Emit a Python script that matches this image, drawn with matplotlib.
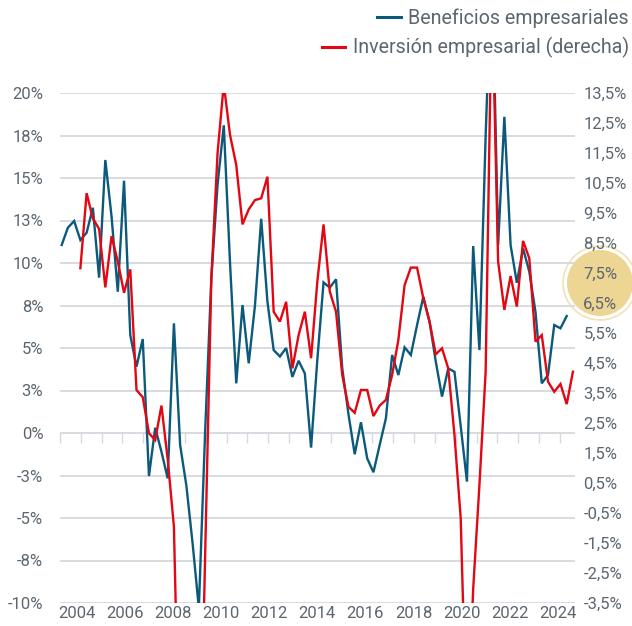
import numpy as np
import matplotlib
matplotlib.use("Agg")
import matplotlib.pyplot as plt
import matplotlib.ticker as ticker
from matplotlib.patches import Circle
from matplotlib.lines import Line2D

plt.rcParams['font.family'] = ['Roboto', 'DejaVu Sans']

#********************************
# Data (quarterly)
#********************************
label_years = ['2004', '2006', '2008', '2010', '2012', '2014',
               '2016', '2018', '2020', '2022', '2024']

# beneficios empresariales, % (left axis), quarters 0..81
beneficios = [11.06, 12.08, 12.47, 11.35, 11.78, 13.25, 9.14, 16.06, 12.73, 8.31,
              14.84, 5.76, 3.90, 5.53, -2.53, 0.31, -1.10, -2.67, 6.45, -0.71,
              -3.10, -6.50, -10.30, 0.00, 9.10, 14.60, 18.10, 10.00, 2.92, 7.53,
              4.10, 7.50, 12.60, 7.73, 4.88, 4.50, 5.00, 3.30, 4.25, 3.50,
              -0.86, 4.30, 8.86, 8.55, 9.04, 3.80, 1.10, -1.25, 0.63, -1.49,
              -2.31, -0.71, 0.86, 4.59, 3.41, 5.04, 4.59, 6.35, 8.02, 6.55,
              4.20, 2.14, 3.80, 3.60, 0.40, -2.86, 11.00, 4.88, 17.50, 28.00,
              11.06, 18.60, 11.06, 8.84, 10.86, 9.49, 7.10, 2.92, 3.41, 6.35,
              6.16, 6.88]

# inversion empresarial, % (right axis), quarters 3..82
inversion = [7.66, 10.16, 9.32, 8.97, 7.02, 8.73, 7.88, 6.84, 7.62, 3.60,
             3.36, 2.16, 1.93, 3.08, 1.30, -0.95, -10.00, -13.00, -13.50, -11.40,
             -2.00, 7.30, 11.50, 13.80, 12.10, 11.10, 9.12, 9.62, 9.93, 9.99,
             10.71, 6.21, 5.88, 6.54, 4.32, 5.43, 6.21, 4.66, 7.21, 9.12,
             6.88, 6.21, 4.10, 3.04, 2.84, 3.60, 3.60, 2.73, 3.08, 3.27,
             4.10, 5.27, 7.10, 7.68, 7.68, 6.66, 5.88, 4.79, 4.99, 4.32,
             2.10, -0.68, -8.30, -3.03, 0.43, 4.21, 17.00, 7.88, 6.27, 7.40,
             6.38, 8.57, 7.99, 5.21, 5.43, 3.88, 3.54, 3.80, 3.13, 4.21]

x_benef = np.arange(len(beneficios))
x_inv = np.arange(3, 3 + len(inversion))

#********************************
# Style
#********************************
Color_benef = '#0b5a7b'
Color_inv = '#e30613'
Grid_color = '#d5d8de'
Text_color = '#5b6670'
tick_font_size = 12
legend_font_size = 14.1
line_w = 1.7

fig = plt.figure(figsize=(6.32, 6.26), dpi=100)

# gold badge on the right edge (behind the axis labels)
fig.patches.append(Circle((6.00, 3.43), 0.37, transform=fig.dpi_scale_trans,
                          facecolor='none', edgecolor='#f1e2b6', linewidth=1.2, zorder=-5))
fig.patches.append(Circle((6.00, 3.43), 0.33, transform=fig.dpi_scale_trans,
                          facecolor='#edd594', edgecolor='none', zorder=-5))

ax1 = fig.add_axes([60/632, 1 - 603/626, 515/632, 510/626])
ax2 = ax1.twinx()
ax1.patch.set_alpha(0)
ax2.patch.set_alpha(0)

ax1.plot(x_benef, beneficios, color=Color_benef, linewidth=line_w, solid_joinstyle='miter')
ax2.plot(x_inv, inversion, color=Color_inv, linewidth=line_w, solid_joinstyle='miter')

# left axis
ax1.set_ylim(-10, 20)
ax1.set_yticks(np.arange(-10, 20.01, 2.5))

def left_fmt(v, pos):
    r = np.sign(v) * np.floor(abs(v) + 0.5)
    return '%d%%' % r

ax1.yaxis.set_major_formatter(ticker.FuncFormatter(left_fmt))
ax1.yaxis.grid(True, color=Grid_color, linewidth=1.3)
ax1.set_axisbelow(True)

# right axis
ax2.set_ylim(-3.5, 13.5)
ax2.set_yticks(np.arange(-3.5, 13.51, 1))
ax2.yaxis.set_major_formatter(ticker.FuncFormatter(lambda v, p: ('%.1f%%' % v).replace('.', ',')))

# x axis
x_left = -0.27
x_right = 82.33
ax1.set_xlim(x_left, x_right)
ax1.set_xticks(np.linspace(2.45, 79.55, len(label_years)))
ax1.set_xticklabels(label_years)

for a in (ax1, ax2):
    for s in a.spines.values():
        s.set_visible(False)
ax1.tick_params(axis='y', length=0, pad=12, labelsize=tick_font_size, labelcolor=Text_color)
ax2.tick_params(axis='y', length=0, pad=6, labelsize=tick_font_size, labelcolor=Text_color)
ax1.tick_params(axis='x', length=0, pad=2, labelsize=tick_font_size, labelcolor=Text_color)

# small tick marks hanging from the 0% line
secax = ax1.secondary_xaxis(1/3)
secax.set_xticks(x_left + np.arange(25) * 3.341)
secax.tick_params(axis='x', direction='out', length=7.5, width=1.0, color=Grid_color, labelbottom=False, labeltop=False)
for s in secax.spines.values():
    s.set_visible(False)

# legend, each entry right aligned
h1 = Line2D([], [], color=Color_benef, linewidth=2.2)
h2 = Line2D([], [], color=Color_inv, linewidth=2.2)
leg1 = fig.legend([h1], ['Beneficios empresariales'], loc='upper right',
                  bbox_to_anchor=(629/632, 1 - 8/626), frameon=False, borderpad=0,
                  borderaxespad=0, handlelength=1.2, handletextpad=0.4,
                  fontsize=legend_font_size, labelcolor=Text_color)
leg2 = fig.legend([h2], ['Inversión empresarial (derecha)'], loc='upper right',
                  bbox_to_anchor=(629/632, 1 - 37/626), frameon=False, borderpad=0,
                  borderaxespad=0, handlelength=1.2, handletextpad=0.4,
                  fontsize=legend_font_size, labelcolor=Text_color)

fig.savefig('out.png', dpi=100)
